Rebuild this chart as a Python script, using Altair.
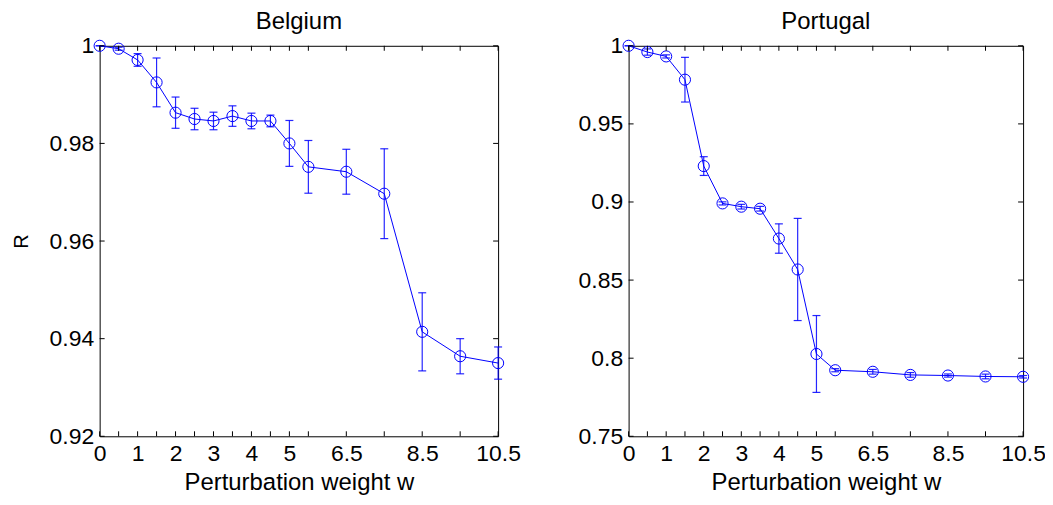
import altair as alt
import pandas as pd

# perturbation weights
w = [0, 0.5, 1, 1.5, 2, 2.5, 3, 3.5, 4, 4.5, 5, 5.5, 6.5, 7.5, 8.5, 9.5, 10.5]
x_labels = [0, 1, 2, 3, 4, 5, 6.5, 8.5, 10.5]

belgium_r = [1.0, 0.9994, 0.9971, 0.9925, 0.9863, 0.9850, 0.9846, 0.9856, 0.9846,
             0.9846, 0.9800, 0.9752, 0.9742, 0.9697, 0.9414, 0.9364, 0.9350]
belgium_err = [0.0, 0.0003, 0.0013, 0.0050, 0.0032, 0.0022, 0.0018, 0.0021, 0.0016,
               0.0012, 0.0047, 0.0054, 0.0046, 0.0092, 0.0080, 0.0036, 0.0033]
belgium_yticks = [0.92, 0.94, 0.96, 0.98, 1.0]

portugal_r = [1.0, 0.9960, 0.9932, 0.9783, 0.9230, 0.8991, 0.8970, 0.8957, 0.8766,
              0.8568, 0.8027, 0.7923, 0.7913, 0.7893, 0.7889, 0.7883, 0.7881]
portugal_err = [0.0, 0.0020, 0.0010, 0.0143, 0.0060, 0.0010, 0.0015, 0.0015, 0.0094,
                0.0327, 0.0246, 0.0010, 0.0015, 0.0015, 0.0010, 0.0015, 0.0008]
portugal_yticks = [0.75, 0.8, 0.85, 0.9, 0.95, 1.0]

FONT = "Liberation Sans"
BLUE = "#0000ff"
FS_TICK = 23
FS_TITLE = 24
H = 392
LABEL = "'' + datum.value"


def panel(name, r, err, yticks, width, ytitle):
    df = pd.DataFrame({"w": w, "r": r, "lo": [a - b for a, b in zip(r, err)],
                       "hi": [a + b for a, b in zip(r, err)]})
    xt = pd.DataFrame({"w": w})
    yt = pd.DataFrame({"v": yticks})
    xs = alt.Scale(domain=[0, 10.5], nice=False, zero=False)
    ys = alt.Scale(domain=[yticks[0], yticks[-1]], nice=False, zero=False)

    xaxis = alt.Axis(values=x_labels, labelExpr=LABEL, ticks=False, tickSize=0, domain=False,
                     grid=False, labelFont=FONT, labelFontSize=FS_TICK, labelColor="black",
                     labelPadding=6, labelOverlap=False, labelFlush=False, labelBound=False,
                     title="Perturbation weight w", titleFont=FONT, titleFontSize=FS_TITLE,
                     titleFontWeight="normal", titleColor="black", titlePadding=5)
    yaxis_kw = dict(values=yticks, labelExpr=LABEL, ticks=False, tickSize=0, domain=False,
                    grid=False, labelFont=FONT, labelFontSize=FS_TICK, labelColor="black",
                    labelPadding=6, labelOverlap=False, labelFlush=False, labelBound=False)
    if ytitle:
        yaxis = alt.Axis(title=ytitle, titleFont=FONT, titleFontSize=20,
                         titleFontWeight="normal", titleColor="black", titlePadding=18,
                         **yaxis_kw)
    else:
        yaxis = alt.Axis(title=None, **yaxis_kw)

    base = alt.Chart(df)
    bars = base.mark_rule(color=BLUE, strokeWidth=1.2, opacity=0.85).encode(
        x=alt.X("w:Q", scale=xs, axis=xaxis),
        y=alt.Y("lo:Q", scale=ys, axis=yaxis),
        y2="hi:Q")
    cap_lo = base.mark_tick(orient="horizontal", color=BLUE, size=8, thickness=1.2,
                            opacity=0.85).encode(x="w:Q", y="lo:Q")
    cap_hi = base.mark_tick(orient="horizontal", color=BLUE, size=8, thickness=1.2,
                            opacity=0.85).encode(x="w:Q", y="hi:Q")
    line = base.mark_line(color=BLUE, strokeWidth=1).encode(x="w:Q", y="r:Q")
    pts = base.mark_point(shape="circle", filled=False, color=BLUE, size=125,
                          strokeWidth=1, opacity=1).encode(x="w:Q", y="r:Q")

    tk = 5
    xtop = alt.Chart(xt).mark_rule(color="black", strokeWidth=1).encode(
        x="w:Q", y=alt.value(0), y2=alt.value(tk))
    xbot = alt.Chart(xt).mark_rule(color="black", strokeWidth=1).encode(
        x="w:Q", y=alt.value(H - tk), y2=alt.value(H))
    yleft = alt.Chart(yt).mark_rule(color="black", strokeWidth=1).encode(
        y=alt.Y("v:Q", scale=ys), x=alt.value(0), x2=alt.value(tk))
    yright = alt.Chart(yt).mark_rule(color="black", strokeWidth=1).encode(
        y=alt.Y("v:Q", scale=ys), x=alt.value(width - tk), x2=alt.value(width))

    return alt.layer(bars, cap_lo, cap_hi, line, pts, xtop, xbot, yleft, yright).properties(
        width=width, height=H,
        title=alt.TitleParams(name, font=FONT, fontSize=FS_TITLE, fontWeight="normal",
                              color="black", offset=1))


left = panel("Belgium", belgium_r, belgium_err, belgium_yticks, 400, "R")
right = panel("Portugal", portugal_r, portugal_err, portugal_yticks, 396, None)

chart = alt.hconcat(left, right, spacing=56).configure_view(
    stroke="black", strokeWidth=1).properties(
    padding={"left": 2, "top": 0, "right": -1, "bottom": 0}, background="white")

chart.save("out.html", embed_options={"renderer": "svg", "actions": False})
